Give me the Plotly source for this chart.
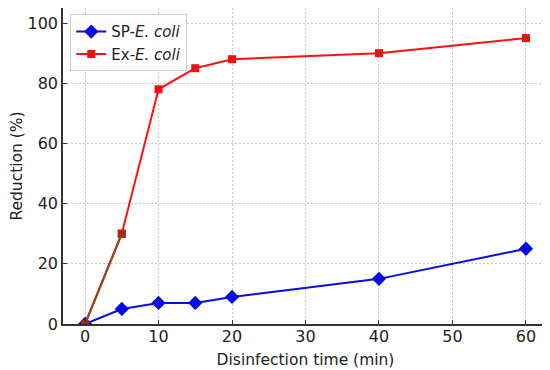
import plotly.graph_objects as go

time_min = [0, 5, 10, 15, 20, 40, 60]
sp_ecoli = [0, 5, 7, 7, 9, 15, 25]
ex_ecoli = [0, 30, 78, 85, 88, 90, 95]
x_ticks = [0, 10, 20, 30, 40, 50, 60]
y_ticks = [0, 20, 40, 60, 80, 100]

font = "DejaVu Sans"
fig = go.Figure()
fig.add_trace(go.Scatter(
    x=time_min, y=sp_ecoli, mode="lines+markers", name="SP-<i>E. coli</i>",
    line=dict(color="#0a0ae6", width=2),
    marker=dict(symbol="diamond", size=11, color="#0a0ae6")))
fig.add_trace(go.Scatter(
    x=time_min, y=ex_ecoli, mode="lines+markers", name="Ex-<i>E. coli</i>",
    line=dict(color="#ff1111", width=2),
    marker=dict(symbol="square", size=8, color="#ee1111")))
# brownish overlay on the first segment
fig.add_trace(go.Scatter(
    x=time_min[:2], y=ex_ecoli[:2], mode="lines+markers", showlegend=False,
    line=dict(color="#8a4a1a", width=2),
    marker=dict(symbol="square", size=8, color="#a03010")))

axis_common = dict(showgrid=True, gridcolor="#c8c8c8", griddash="2px,2px", gridwidth=1,
                   zeroline=False, showline=True, linecolor="#333", linewidth=1.5,
                   ticks="inside", ticklen=4, tickcolor="#333",
                   tickfont=dict(size=16, family=font, color="#222"), automargin=False)

# page body has an 8px default margin, so the figure is sized to fit the 550x370 window
fig.update_layout(
    width=542, height=362,
    margin=dict(l=55, r=2, t=0, b=46),
    paper_bgcolor="white", plot_bgcolor="white",
    font=dict(family=font, size=15, color="#222"),
    showlegend=True,
    legend=dict(x=0.015, y=0.98, xanchor="left", yanchor="top",
                bgcolor="rgba(255,255,255,0.85)", bordercolor="#cccccc", borderwidth=1,
                font=dict(size=15, family=font, color="#222"), tracegroupgap=2),
    xaxis=dict(range=[-3, 63], tickvals=x_ticks, ticklabelstandoff=-3,
               title=dict(text="Disinfection time (min)", font=dict(size=15.5), standoff=9),
               **axis_common),
    yaxis=dict(range=[0, 105], tickvals=y_ticks,
               title=dict(text="Reduction (%)", font=dict(size=15.5), standoff=6),
               **axis_common),
)
fig.write_html("out.html")
